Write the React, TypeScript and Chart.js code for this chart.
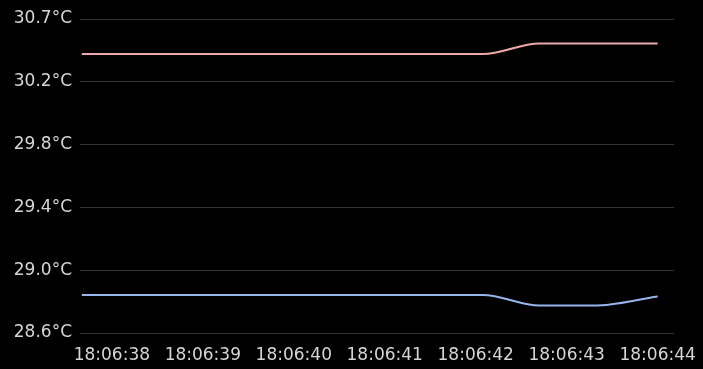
import React, { useEffect, useRef } from "react";
import { Chart, registerables } from "chart.js";

Chart.register(...registerables);

// Sample times in seconds after 18:06:00
const sampleSeconds = [37.67, 38.5, 39.5, 40.5, 41.5, 42.08, 42.7, 43.3, 44.0];
const seriesRedValues = [30.43, 30.43, 30.43, 30.43, 30.43, 30.43, 30.5, 30.5, 30.5];
const seriesBlueValues = [28.85, 28.85, 28.85, 28.85, 28.85, 28.85, 28.78, 28.78, 28.84];

const xTickSeconds = [38, 39, 40, 41, 42, 43, 44];
const xTickLabels = ["18:06:38", "18:06:39", "18:06:40", "18:06:41", "18:06:42", "18:06:43", "18:06:44"];

const yMin = 28.6;
const yMax = 30.66;
const yTickCount = 6;
const xMin = 37.65;
const xMax = 44.18;

export default function App() {
  const ref = useRef<HTMLCanvasElement | null>(null);

  useEffect(() => {
    document.body.style.margin = "0";
    document.body.style.background = "#000";
    const canvas = ref.current;
    if (!canvas) return;
    const font = { family: "DejaVu Sans", size: 17 };
    const chart = new Chart(canvas, {
      type: "line",
      data: {
        datasets: [
          {
            label: "A",
            data: sampleSeconds.map((s, i) => ({ x: s, y: seriesRedValues[i] })),
            borderColor: "rgb(238,170,170)",
            borderWidth: 2,
            pointRadius: 0,
            cubicInterpolationMode: "monotone",
            fill: false,
          },
          {
            label: "B",
            data: sampleSeconds.map((s, i) => ({ x: s, y: seriesBlueValues[i] })),
            borderColor: "rgb(150,182,235)",
            borderWidth: 2,
            pointRadius: 0,
            cubicInterpolationMode: "monotone",
            fill: false,
          },
        ],
      },
      options: {
        responsive: false,
        animation: false,
        layout: { padding: { top: 19, right: 29, left: 0, bottom: 0 } },
        plugins: { legend: { display: false }, tooltip: { enabled: false } },
        scales: {
          x: {
            type: "linear",
            min: xMin,
            max: xMax,
            grid: { display: false },
            border: { display: false },
            afterBuildTicks: (scale: any) => {
              scale.ticks = xTickSeconds.map((v) => ({ value: v }));
            },
            afterFit: (scale: any) => {
              scale.height = 36;
            },
            ticks: {
              autoSkip: false,
              maxRotation: 0,
              color: "#d6d6d6",
              font,
              padding: 4,
              callback: (v: any) => {
                const i = xTickSeconds.indexOf(Number(v));
                return i >= 0 ? xTickLabels[i] : null;
              },
            },
          },
          y: {
            type: "linear",
            min: yMin,
            max: yMax,
            grid: { color: "rgba(255,255,255,0.2)", drawTicks: false, lineWidth: 1 },
            border: { display: false },
            afterFit: (scale: any) => {
              scale.width = 80;
            },
            ticks: {
              count: yTickCount,
              color: "#d6d6d6",
              font,
              padding: 8,
              callback: (v: any) => Number(v).toFixed(1) + "°C",
            },
          },
        },
      },
    } as any);
    return () => chart.destroy();
  }, []);

  return (
    <div style={{ width: 703, height: 369, background: "#000" }}>
      <canvas ref={ref} width={703} height={369} />
    </div>
  );
}
